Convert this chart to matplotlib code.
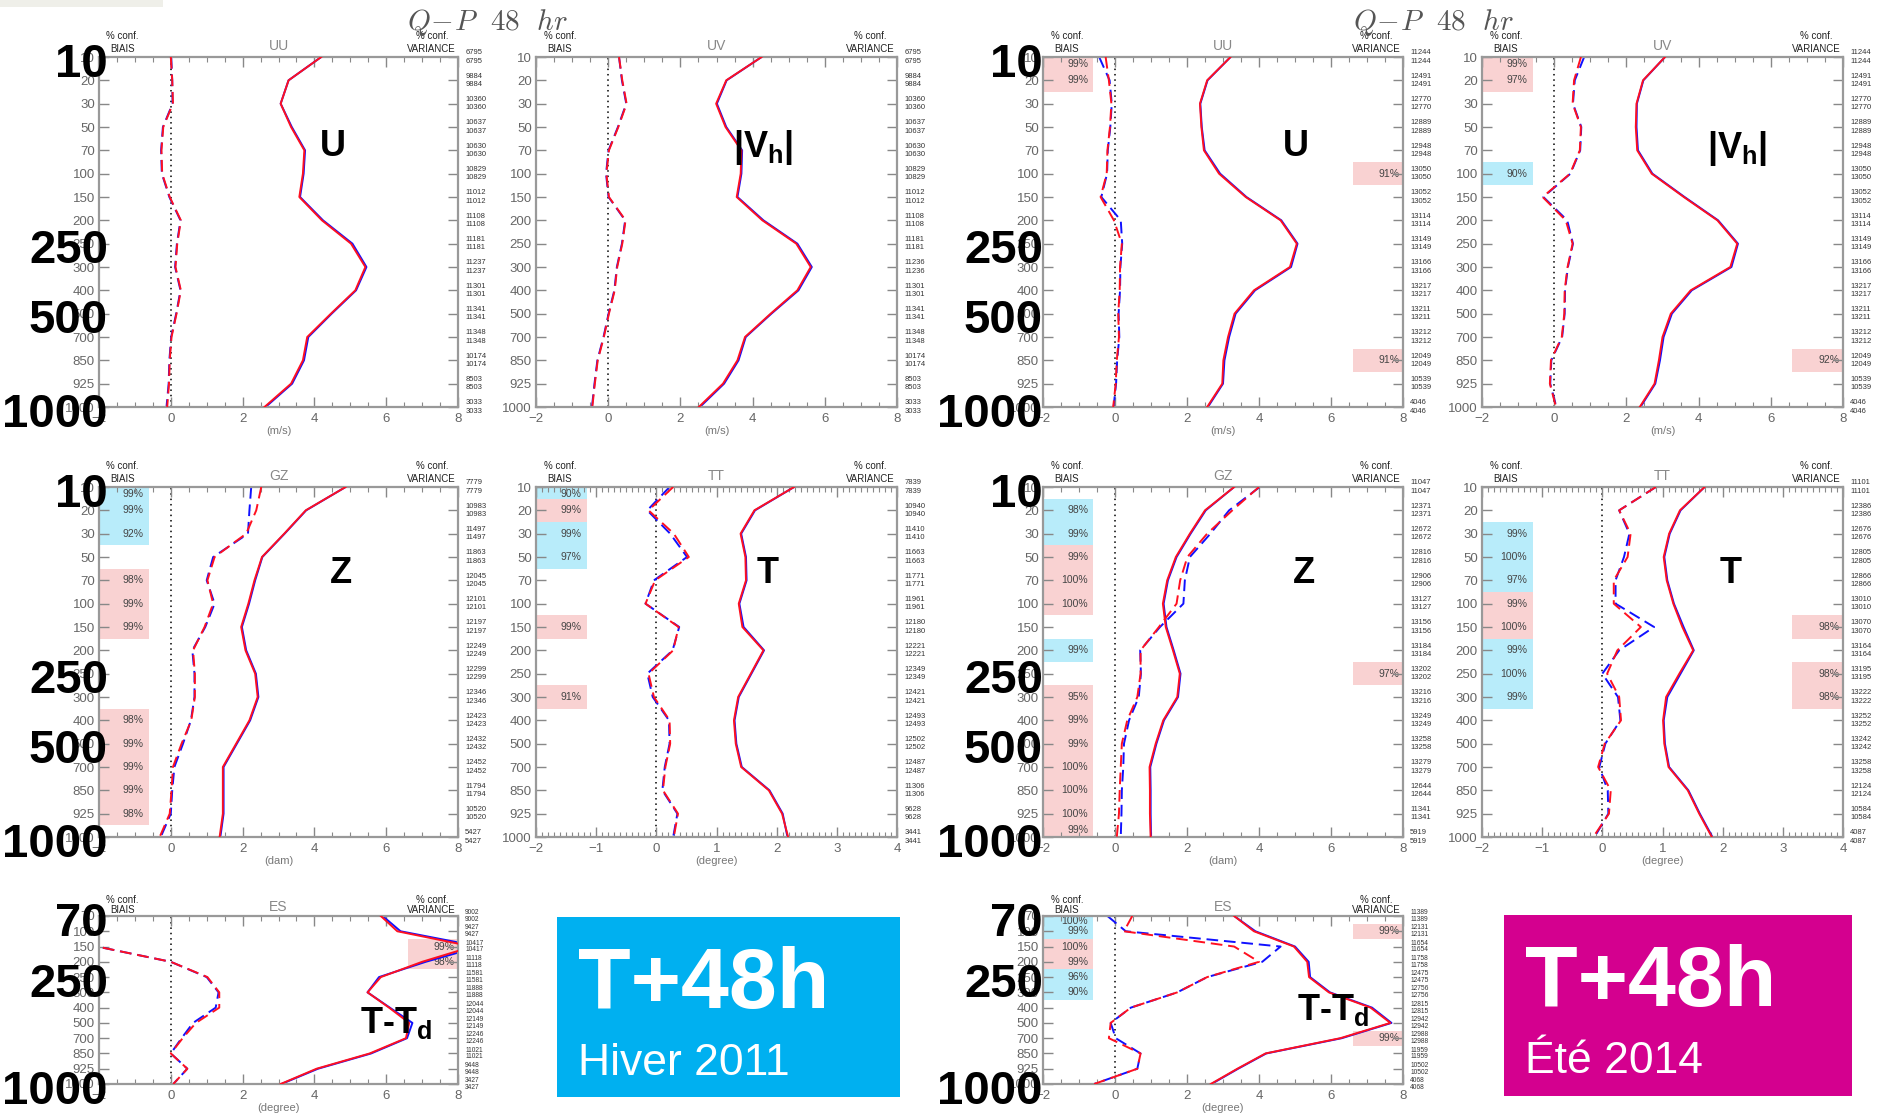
import numpy as np
import matplotlib
matplotlib.use('Agg')
import matplotlib.pyplot as plt
from matplotlib.patches import Rectangle
from matplotlib.ticker import MultipleLocator

plt.rcParams['font.family'] = ['Liberation Sans', 'DejaVu Sans']
plt.rcParams['mathtext.fontset'] = 'custom'
plt.rcParams['mathtext.rm'] = 'Liberation Sans:bold'
plt.rcParams['mathtext.it'] = 'Liberation Sans:bold'
plt.rcParams['mathtext.bf'] = 'Liberation Sans:bold'

W, H = 1880, 1118

# niveaux de pression (hPa)
niveaux = [10, 20, 30, 50, 70, 100, 150, 200, 250, 300, 400, 500, 700, 850, 925, 1000]
niveaux_es = [70, 100, 150, 200, 250, 300, 400, 500, 700, 850, 925, 1000]

# ---- Hiver 2011 ----
uu_h_std_r = [4.19, 3.28, 3.06, 3.35, 3.72, 3.68, 3.58, 4.21, 5.02, 5.42, 5.14, 4.46, 3.80, 3.68, 3.35, 2.61]
uu_h_std_b = [4.19, 3.28, 3.06, 3.37, 3.74, 3.70, 3.60, 4.24, 5.06, 5.45, 5.16, 4.48, 3.83, 3.71, 3.38, 2.64]
uu_h_bias_r = [0.00, 0.04, 0.06, -0.21, -0.26, -0.24, -0.03, 0.28, 0.18, 0.13, 0.28, 0.16, 0.02, -0.03, -0.05, -0.10]
uu_h_bias_b = [0.01, 0.04, 0.05, -0.22, -0.27, -0.25, -0.04, 0.27, 0.17, 0.12, 0.27, 0.15, 0.01, -0.04, -0.06, -0.12]
uu_h_n = [6795, 9884, 10360, 10637, 10630, 10829, 11012, 11108, 11181, 11237, 11301, 11341, 11348, 10174, 8503, 3033]

uv_h_std_r = [4.25, 3.27, 2.99, 3.25, 3.69, 3.67, 3.56, 4.27, 5.21, 5.61, 5.24, 4.50, 3.79, 3.58, 3.18, 2.51]
uv_h_std_b = [4.25, 3.28, 3.01, 3.27, 3.71, 3.69, 3.58, 4.30, 5.24, 5.64, 5.27, 4.52, 3.81, 3.61, 3.21, 2.54]
uv_h_bias_r = [0.30, 0.39, 0.51, 0.28, 0.02, -0.05, 0.02, 0.48, 0.39, 0.25, 0.18, 0.02, -0.12, -0.29, -0.37, -0.44]
uv_h_bias_b = [0.30, 0.38, 0.50, 0.27, 0.01, -0.06, 0.01, 0.47, 0.38, 0.24, 0.17, 0.01, -0.13, -0.30, -0.38, -0.45]
uv_h_n = [6795, 9884, 10360, 10637, 10630, 10829, 11012, 11108, 11181, 11236, 11301, 11341, 11348, 10174, 8503, 3033]

gz_h_std_r = [4.87, 3.76, 3.16, 2.54, 2.33, 2.16, 1.96, 2.08, 2.35, 2.42, 2.19, 1.82, 1.45, 1.45, 1.45, 1.36]
gz_h_std_b = [4.87, 3.77, 3.17, 2.55, 2.35, 2.18, 1.98, 2.10, 2.37, 2.44, 2.21, 1.84, 1.47, 1.47, 1.47, 1.38]
gz_h_bias_r = [2.52, 2.38, 2.10, 1.22, 1.02, 1.18, 0.94, 0.62, 0.67, 0.67, 0.57, 0.30, 0.06, 0.02, -0.03, -0.31]
gz_h_bias_b = [2.24, 2.19, 2.15, 1.18, 1.00, 1.22, 0.96, 0.60, 0.66, 0.66, 0.56, 0.34, 0.10, 0.04, 0.00, -0.28]
gz_h_n = [7779, 10983, 11497, 11863, 12045, 12101, 12197, 12249, 12299, 12346, 12423, 12432, 12452, 11794, 10520, 5427]

tt_h_std_r = [2.29, 1.63, 1.40, 1.48, 1.49, 1.37, 1.43, 1.78, 1.57, 1.36, 1.29, 1.32, 1.41, 1.87, 2.09, 2.19]
tt_h_std_b = [2.29, 1.64, 1.41, 1.49, 1.50, 1.38, 1.45, 1.79, 1.58, 1.37, 1.30, 1.33, 1.42, 1.88, 2.10, 2.18]
tt_h_bias_r = [0.28, -0.13, 0.29, 0.54, -0.02, -0.18, 0.37, 0.28, -0.13, -0.04, 0.22, 0.23, 0.15, 0.11, 0.36, 0.29]
tt_h_bias_b = [0.22, -0.15, 0.23, 0.51, -0.04, -0.18, 0.38, 0.27, -0.15, -0.06, 0.21, 0.22, 0.14, 0.10, 0.35, 0.28]
tt_h_n = [7839, 10940, 11410, 11663, 11771, 11961, 12180, 12221, 12349, 12421, 12493, 12502, 12487, 11306, 9628, 3441]

es_h_std_r = [5.85, 6.31, 8.40, 7.00, 5.85, 5.48, 6.08, 6.64, 6.55, 5.54, 4.06, 3.06]
es_h_std_b = [5.90, 6.40, 8.60, 7.10, 5.80, 5.48, 6.10, 6.73, 6.58, 5.58, 4.10, 3.08]
es_h_bias_r = [-6.0, -5.0, -2.05, 0.00, 1.02, 1.35, 1.35, 0.70, 0.33, 0.00, 0.46, 0.07]
es_h_bias_b = [-6.0, -5.0, -2.05, 0.00, 1.00, 1.33, 1.25, 0.62, 0.30, 0.00, 0.46, 0.07]
es_h_n = [9002, 9427, 10417, 11118, 11581, 11888, 12044, 12149, 12246, 11021, 9448, 3427]

# ---- Été 2014 ----
uu_e_std_r = [3.21, 2.56, 2.36, 2.40, 2.47, 2.89, 3.63, 4.60, 5.05, 4.86, 3.86, 3.32, 3.14, 3.01, 2.98, 2.56]
uu_e_std_b = [3.21, 2.57, 2.37, 2.41, 2.49, 2.92, 3.65, 4.62, 5.07, 4.89, 3.89, 3.35, 3.17, 3.04, 3.00, 2.58]
uu_e_bias_r = [-0.26, -0.17, -0.10, -0.14, -0.21, -0.23, -0.40, -0.03, 0.19, 0.14, 0.13, 0.09, 0.11, 0.05, 0.02, -0.05]
uu_e_bias_b = [-0.44, -0.15, -0.09, -0.13, -0.20, -0.22, -0.38, 0.16, 0.20, 0.15, 0.14, 0.10, 0.12, 0.06, 0.03, -0.04]
uu_e_n = [11244, 12491, 12770, 12889, 12948, 13050, 13052, 13114, 13149, 13166, 13217, 13211, 13212, 12049, 10539, 4046]

uv_e_std_r = [3.07, 2.46, 2.28, 2.26, 2.30, 2.70, 3.59, 4.52, 5.07, 4.88, 3.78, 3.23, 3.00, 2.90, 2.78, 2.37]
uv_e_std_b = [3.07, 2.47, 2.29, 2.28, 2.32, 2.72, 3.61, 4.54, 5.09, 4.91, 3.81, 3.26, 3.03, 2.93, 2.80, 2.39]
uv_e_bias_r = [0.74, 0.55, 0.51, 0.74, 0.71, 0.44, -0.32, 0.32, 0.51, 0.37, 0.29, 0.28, 0.21, -0.09, -0.12, 0.05]
uv_e_bias_b = [0.83, 0.57, 0.52, 0.75, 0.72, 0.45, -0.30, 0.36, 0.52, 0.38, 0.30, 0.29, 0.22, -0.08, -0.11, 0.06]
uv_e_n = [11244, 12491, 12770, 12889, 12948, 13050, 13052, 13114, 13149, 13166, 13217, 13211, 13212, 12049, 10539, 4046]

gz_e_std_r = [3.31, 2.50, 2.08, 1.69, 1.45, 1.33, 1.41, 1.61, 1.80, 1.73, 1.34, 1.13, 0.96, 0.97, 0.97, 0.99]
gz_e_std_b = [3.31, 2.52, 2.10, 1.71, 1.47, 1.35, 1.43, 1.63, 1.82, 1.75, 1.36, 1.15, 0.98, 0.99, 0.99, 1.00]
gz_e_bias_r = [4.00, 3.26, 2.56, 2.01, 1.81, 1.71, 1.22, 0.71, 0.71, 0.62, 0.34, 0.19, 0.16, 0.13, 0.11, 0.05]
gz_e_bias_b = [4.02, 3.17, 2.65, 2.08, 1.94, 1.90, 1.25, 0.70, 0.72, 0.66, 0.39, 0.25, 0.23, 0.19, 0.18, 0.16]
gz_e_n = [11047, 12371, 12672, 12816, 12906, 13127, 13156, 13184, 13202, 13216, 13249, 13258, 13279, 12644, 11341, 5919]

tt_e_std_r = [1.70, 1.29, 1.11, 1.02, 1.07, 1.18, 1.33, 1.51, 1.28, 1.06, 1.01, 1.03, 1.10, 1.42, 1.61, 1.82]
tt_e_std_b = [1.70, 1.30, 1.12, 1.03, 1.08, 1.19, 1.35, 1.52, 1.30, 1.08, 1.02, 1.04, 1.11, 1.43, 1.62, 1.83]
tt_e_bias_r = [0.89, 0.28, 0.47, 0.42, 0.19, 0.19, 0.64, 0.25, 0.08, 0.28, 0.31, 0.04, -0.07, 0.14, 0.11, -0.15]
tt_e_bias_b = [0.89, 0.28, 0.45, 0.36, 0.22, 0.22, 0.86, 0.28, 0.00, 0.26, 0.30, 0.05, -0.05, 0.09, 0.10, -0.13]
tt_e_n = [11101, 12386, 12676, 12805, 12866, 13010, 13070, 13164, 13195, 13222, 13252, 13242, 13258, 12124, 10584, 4087]

es_e_std_r = [3.31, 3.86, 4.97, 5.34, 5.39, 5.94, 7.10, 7.65, 6.26, 4.18, 3.40, 2.66]
es_e_std_b = [3.31, 3.90, 5.00, 5.38, 5.42, 5.97, 7.14, 7.68, 6.30, 4.20, 3.42, 2.68]
es_e_bias_r = [0.48, 0.25, 3.31, 4.00, 2.56, 1.73, 0.44, -0.12, -0.17, 0.71, 0.62, -0.58]
es_e_bias_b = [-0.21, 0.30, 4.60, 4.09, 2.56, 1.73, 0.44, -0.12, 0.02, 0.71, 0.62, -0.58]
es_e_n = [11389, 12131, 11654, 11758, 12475, 12756, 12815, 12942, 12988, 11959, 10502, 4068]

# niveaux significatifs : (niveau, texte, couleur) r = rose, b = bleu
gz_h_conf_g = [(10, '99%', 'b'), (20, '99%', 'b'), (30, '92%', 'b'), (70, '98%', 'r'), (100, '99%', 'r'),
               (150, '99%', 'r'), (400, '98%', 'r'), (500, '99%', 'r'), (700, '99%', 'r'), (850, '99%', 'r'),
               (925, '98%', 'r')]
tt_h_conf_g = [(10, '90%', 'b'), (20, '99%', 'r'), (30, '99%', 'b'), (50, '97%', 'b'), (150, '99%', 'r'),
               (300, '91%', 'r')]
es_h_conf_d = [(150, '99%', 'r'), (200, '98%', 'r')]
uu_e_conf_g = [(10, '99%', 'r'), (20, '99%', 'r')]
uu_e_conf_d = [(100, '91%', 'r'), (850, '91%', 'r')]
uv_e_conf_g = [(10, '99%', 'r'), (20, '97%', 'r'), (100, '90%', 'b')]
uv_e_conf_d = [(850, '92%', 'r')]
gz_e_conf_g = [(20, '98%', 'b'), (30, '99%', 'b'), (50, '99%', 'r'), (70, '100%', 'r'), (100, '100%', 'r'),
               (200, '99%', 'b'), (300, '95%', 'r'), (400, '99%', 'r'), (500, '99%', 'r'), (700, '100%', 'r'),
               (850, '100%', 'r'), (925, '100%', 'r'), (1000, '99%', 'r')]
gz_e_conf_d = [(250, '97%', 'r')]
tt_e_conf_g = [(30, '99%', 'b'), (50, '100%', 'b'), (70, '97%', 'b'), (100, '99%', 'r'), (150, '100%', 'r'),
               (200, '99%', 'b'), (250, '100%', 'b'), (300, '99%', 'b')]
tt_e_conf_d = [(150, '98%', 'r'), (250, '98%', 'r'), (300, '98%', 'r')]
es_e_conf_g = [(70, '100%', 'b'), (100, '99%', 'b'), (150, '100%', 'r'), (200, '99%', 'r'), (250, '96%', 'b'),
               (300, '90%', 'b')]
es_e_conf_d = [(100, '99%', 'r'), (700, '99%', 'r')]

couleurs_conf = {'r': '#f9d2d2', 'b': '#b8ecfa'}

fig = plt.figure(figsize=(W / 100, H / 100), dpi=100)
fig.patches.append(Rectangle((0, 1 - 7 / H), 163 / W, 7 / H, transform=fig.transFigure,
                             color='#efefe9', lw=0))


def rect_px(x0, y0, x1, y1):
    return [x0 / W, 1 - y1 / H, (x1 - x0) / W, (y1 - y0) / H]


def boites(ax, niv, conf, cote):
    tr = ax.get_yaxis_transform()
    n = len(niv)
    for (p, txt, c) in conf:
        i = niv.index(p)
        if cote == 'g':
            ax.axhspan(i - 0.5, i + 0.5, xmin=0, xmax=0.14, color=couleurs_conf[c], lw=0, zorder=0)
            xt = 0.125
        else:
            ax.axhspan(i - 0.5, i + 0.5, xmin=0.86, xmax=1, color=couleurs_conf[c], lw=0, zorder=0)
            xt = 0.99
        yt = i
        if i == 0:
            yt = 0.3
        elif i == n - 1:
            yt = n - 1.3
        ax.text(xt, yt, txt, transform=tr, ha='right', va='center', fontsize=7.5, color='#444',
                clip_on=True, zorder=1)


def panneau(rect, nom, niv, xlim, xpas, xmin_pas, unite, std_r, std_b, bias_r, bias_b, nobs,
            conf_g, conf_d, lettre, pos_lettre, grands, dx_grand, es=False):
    ax = fig.add_axes(rect)
    y = np.arange(len(niv))
    ax.set_xlim(xlim)
    ax.set_ylim(len(niv) - 1, 0)
    boites(ax, niv, conf_g, 'g')
    boites(ax, niv, conf_d, 'd')
    ax.axvline(0, color='k', ls=(0, (1, 2.5)), lw=1.1, zorder=1)
    ax.plot(std_b, y, color='#1010ff', lw=1.4, zorder=2)
    ax.plot(std_r, y, color='#ff1020', lw=1.4, zorder=3)
    ax.plot(bias_b, y, color='#1010ff', lw=1.4, ls=(0, (6, 3)), zorder=2)
    ax.plot(bias_r, y, color='#ff1020', lw=1.4, ls=(0, (6, 3)), zorder=3)

    ax.set_yticks(y)
    ax.set_yticklabels([str(v) for v in niv])
    ax.set_xticks(np.arange(xlim[0], xlim[1] + 0.01, xpas))
    ax.set_xticklabels(['%d' % v if v >= 0 else '\u2212%d' % -v for v in np.arange(xlim[0], xlim[1] + 0.01, xpas)])
    ax.xaxis.set_minor_locator(MultipleLocator(xmin_pas))
    ax.tick_params(which='both', direction='in', top=True, right=True, color='#888',
                   labelsize=9.5, labelcolor='#666')
    ax.tick_params(which='major', length=7, width=1)
    ax.tick_params(which='minor', length=3.5, width=0.8)
    ax.tick_params(axis='y', pad=3)
    ax.tick_params(axis='x', pad=4)
    for s in ax.spines.values():
        s.set_color('#999')
        s.set_linewidth(1.6)
    ax.set_xlabel(unite, fontsize=8, color='#777', labelpad=1)

    ax.text(0.5, 1.012, nom, transform=ax.transAxes, ha='center', va='bottom', fontsize=10, color='#888')
    ls = 0.95 if es else 1.45
    ax.text(0.066, 1.008, '% conf.\nBIAIS', transform=ax.transAxes, ha='center', va='bottom',
            multialignment='center', fontsize=7, linespacing=ls, color='#222')
    ax.text(0.927, 1.008, '% conf.\nVARIANCE', transform=ax.transAxes, ha='center', va='bottom',
            multialignment='center', fontsize=7, linespacing=ls, color='#222')

    tr = ax.get_yaxis_transform()
    for i, n in enumerate(nobs):
        ax.text(1.02, i, '%d\n%d' % (n, n), transform=tr, ha='left', va='center',
                fontsize=4.8 if es else 5.5, linespacing=0.95 if es else 1.3, color='#333', clip_on=False)

    ax.text(pos_lettre[0], pos_lettre[1], lettre, transform=ax.transAxes, ha='center', va='baseline',
            fontsize=26, fontweight='bold', color='k')

    for g in grands:
        i = niv.index(g)
        ax.annotate(str(g), xy=(dx_grand, i), xycoords=tr, xytext=(0, -0.36 * 34 - 2), textcoords='offset points',
                    ha='right', va='baseline', fontsize=34, fontweight='bold', color='k',
                    annotation_clip=False, zorder=10)
    return ax


# colonnes et lignes en pixels
cols = [(99, 458), (536, 897), (1043, 1403), (1482, 1843)]
rows = [(57, 407), (487, 837), (916, 1084)]

grands_std = [10, 250, 500, 1000]
grands_es = [70, 250, 1000]

# Hiver 2011
panneau(rect_px(cols[0][0], rows[0][0], cols[0][1], rows[0][1]), 'UU', niveaux, (-2, 8), 2, 0.5, '(m/s)',
        uu_h_std_r, uu_h_std_b, uu_h_bias_r, uu_h_bias_b, uu_h_n, [], [], 'U', (0.652, 0.717), grands_std, 0.025)
panneau(rect_px(cols[1][0], rows[0][0], cols[1][1], rows[0][1]), 'UV', niveaux, (-2, 8), 2, 0.5, '(m/s)',
        uv_h_std_r, uv_h_std_b, uv_h_bias_r, uv_h_bias_b, uv_h_n, [], [], '|V$_\\mathrm{h}$|', (0.629, 0.714), [], 0)
panneau(rect_px(cols[0][0], rows[1][0], cols[0][1], rows[1][1]), 'GZ', niveaux, (-2, 8), 2, 0.5, '(dam)',
        gz_h_std_r, gz_h_std_b, gz_h_bias_r, gz_h_bias_b, gz_h_n, gz_h_conf_g, [], 'Z', (0.674, 0.726), grands_std, 0.025)
panneau(rect_px(cols[1][0], rows[1][0], cols[1][1], rows[1][1]), 'TT', niveaux, (-2, 4), 1, 0.1, '(degree)',
        tt_h_std_r, tt_h_std_b, tt_h_bias_r, tt_h_bias_b, tt_h_n, tt_h_conf_g, [], 'T', (0.643, 0.726), [], 0)
panneau(rect_px(cols[0][0], rows[2][0], cols[0][1], rows[2][1]), 'ES', niveaux_es, (-2, 8), 2, 0.5, '(degree)',
        es_h_std_r, es_h_std_b, es_h_bias_r, es_h_bias_b, es_h_n, [], es_h_conf_d, 'T-T$_\\mathrm{d}$',
        (0.827, 0.304), grands_es, 0.025, es=True)

# Été 2014
panneau(rect_px(cols[2][0], rows[0][0], cols[2][1], rows[0][1]), 'UU', niveaux, (-2, 8), 2, 0.5, '(m/s)',
        uu_e_std_r, uu_e_std_b, uu_e_bias_r, uu_e_bias_b, uu_e_n, uu_e_conf_g, uu_e_conf_d, 'U', (0.703, 0.717),
        grands_std, 0.0)
panneau(rect_px(cols[3][0], rows[0][0], cols[3][1], rows[0][1]), 'UV', niveaux, (-2, 8), 2, 0.5, '(m/s)',
        uv_e_std_r, uv_e_std_b, uv_e_bias_r, uv_e_bias_b, uv_e_n, uv_e_conf_g, uv_e_conf_d, '|V$_\\mathrm{h}$|',
        (0.706, 0.711), [], 0)
panneau(rect_px(cols[2][0], rows[1][0], cols[2][1], rows[1][1]), 'GZ', niveaux, (-2, 8), 2, 0.5, '(dam)',
        gz_e_std_r, gz_e_std_b, gz_e_bias_r, gz_e_bias_b, gz_e_n, gz_e_conf_g, gz_e_conf_d, 'Z', (0.725, 0.726),
        grands_std, 0.0)
panneau(rect_px(cols[3][0], rows[1][0], cols[3][1], rows[1][1]), 'TT', niveaux, (-2, 4), 1, 0.1, '(degree)',
        tt_e_std_r, tt_e_std_b, tt_e_bias_r, tt_e_bias_b, tt_e_n, tt_e_conf_g, tt_e_conf_d, 'T', (0.690, 0.726), [], 0)
panneau(rect_px(cols[2][0], rows[2][0], cols[2][1], rows[2][1]), 'ES', niveaux_es, (-2, 8), 2, 0.5, '(degree)',
        es_e_std_r, es_e_std_b, es_e_bias_r, es_e_bias_b, es_e_n, es_e_conf_g, es_e_conf_d, 'T-T$_\\mathrm{d}$',
        (0.806, 0.381), grands_es, 0.0, es=True)

# titres Q-P 48 hr
for xc in (487, 1433):
    fig.text(xc / W, 1 - 22 / H, r'$Q\!-\!P\ \ 48\ \ hr$', math_fontfamily='cm', fontsize=21,
             ha='center', va='center', color='#555')

# cartouches T+48h
cartouches = [((557, 917, 900, 1097), '#00b0f0', 'Hiver 2011', 578),
              ((1504, 915, 1852, 1096), '#d4008f', '\u00c9t\u00e9 2014', 1525)]
for (x0, y0, x1, y1), coul, saison, xt in cartouches:
    fig.patches.append(Rectangle((x0 / W, 1 - y1 / H), (x1 - x0) / W, (y1 - y0) / H,
                                 transform=fig.transFigure, color=coul, lw=0))
    fig.text(xt / W, 1 - (y0 + 91) / H, 'T+48h', fontsize=62, fontweight='bold', color='white',
             ha='left', va='baseline')
    fig.text(xt / W, 1 - (y0 + 158) / H, saison, fontsize=32, color='white', ha='left', va='baseline')

fig.savefig('out.png', dpi=100)
